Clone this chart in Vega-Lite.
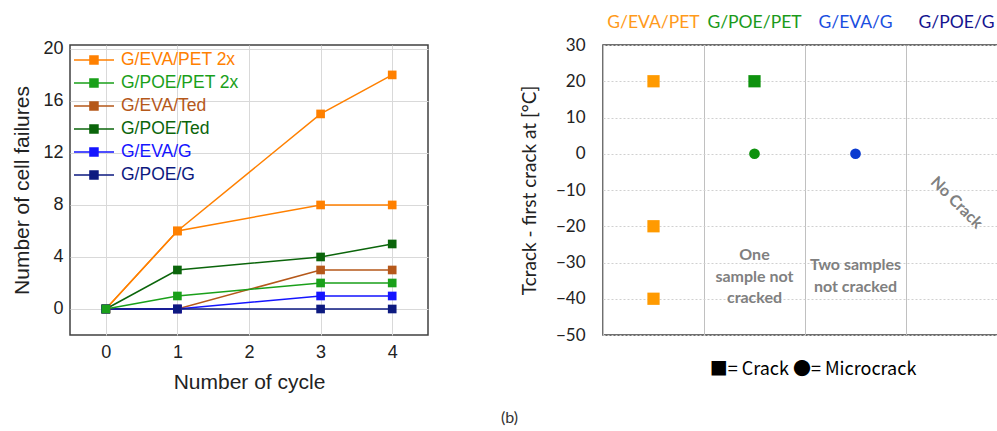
{
  "$schema": "https://vega.github.io/schema/vega-lite/v6.json",
  "autosize": {"type": "pad"},
  "padding": {"left": 11, "top": 12, "right": 0, "bottom": 5},
  "background": "white",
  "bounds": "flush",
  "spacing": 175,
  "config": {"view": {"stroke": "#404040", "strokeWidth": 1.5}},
  "title": {"text": "(b)", "orient": "bottom", "anchor": "middle", "font": "Lato", "fontSize": 16, "fontWeight": "normal", "color": "#333333", "offset": 17},
  "datasets": {
    "failures": [
      {"series": "G/EVA/PET 2x", "line": "a", "cycle": 0, "failures": 0},
      {"series": "G/EVA/PET 2x", "line": "a", "cycle": 1, "failures": 6},
      {"series": "G/EVA/PET 2x", "line": "a", "cycle": 3, "failures": 15},
      {"series": "G/EVA/PET 2x", "line": "a", "cycle": 4, "failures": 18},
      {"series": "G/EVA/PET 2x", "line": "b", "cycle": 0, "failures": 0},
      {"series": "G/EVA/PET 2x", "line": "b", "cycle": 1, "failures": 6},
      {"series": "G/EVA/PET 2x", "line": "b", "cycle": 3, "failures": 8},
      {"series": "G/EVA/PET 2x", "line": "b", "cycle": 4, "failures": 8},
      {"series": "G/EVA/Ted", "line": "c", "cycle": 0, "failures": 0},
      {"series": "G/EVA/Ted", "line": "c", "cycle": 1, "failures": 0},
      {"series": "G/EVA/Ted", "line": "c", "cycle": 3, "failures": 3},
      {"series": "G/EVA/Ted", "line": "c", "cycle": 4, "failures": 3},
      {"series": "G/POE/Ted", "line": "d", "cycle": 0, "failures": 0},
      {"series": "G/POE/Ted", "line": "d", "cycle": 1, "failures": 3},
      {"series": "G/POE/Ted", "line": "d", "cycle": 3, "failures": 4},
      {"series": "G/POE/Ted", "line": "d", "cycle": 4, "failures": 5},
      {"series": "G/EVA/G", "line": "e", "cycle": 0, "failures": 0},
      {"series": "G/EVA/G", "line": "e", "cycle": 1, "failures": 0},
      {"series": "G/EVA/G", "line": "e", "cycle": 3, "failures": 1},
      {"series": "G/EVA/G", "line": "e", "cycle": 4, "failures": 1},
      {"series": "G/POE/G", "line": "f", "cycle": 0, "failures": 0},
      {"series": "G/POE/G", "line": "f", "cycle": 1, "failures": 0},
      {"series": "G/POE/G", "line": "f", "cycle": 3, "failures": 0},
      {"series": "G/POE/G", "line": "f", "cycle": 4, "failures": 0},
      {"series": "G/POE/PET 2x", "line": "g", "cycle": 0, "failures": 0},
      {"series": "G/POE/PET 2x", "line": "g", "cycle": 1, "failures": 1},
      {"series": "G/POE/PET 2x", "line": "g", "cycle": 3, "failures": 2},
      {"series": "G/POE/PET 2x", "line": "g", "cycle": 4, "failures": 2}
    ],
    "cracks": [
      {"material": "G/EVA/PET", "temp": 20, "type": "Crack"},
      {"material": "G/EVA/PET", "temp": -20, "type": "Crack"},
      {"material": "G/EVA/PET", "temp": -40, "type": "Crack"},
      {"material": "G/POE/PET", "temp": 20, "type": "Crack"},
      {"material": "G/POE/PET", "temp": 0, "type": "Microcrack"},
      {"material": "G/EVA/G", "temp": 0, "type": "Microcrack"}
    ],
    "notes": [
      {"material": "G/POE/PET", "temp": -28, "label": "One\nsample not\ncracked"},
      {"material": "G/EVA/G", "temp": -30.8, "label": "Two samples\nnot cracked"}
    ],
    "notes2": [
      {"material": "G/POE/G", "temp": -13.5, "label": "No Crack"}
    ]
  },
  "hconcat": [
    {
      "width": 358,
      "height": 290,
      "data": {"name": "failures"},
      "mark": {"type": "line", "strokeWidth": 1.5, "point": {"shape": "square", "size": 75, "filled": true, "opacity": 1}},
      "encoding": {
        "x": {"field": "cycle", "type": "quantitative",
          "scale": {"domain": [-0.5, 4.5], "nice": false, "zero": false},
          "axis": {"values": [0, 1, 2, 3, 4], "title": "Number of cycle", "titleFont": "Liberation Sans", "titleFontSize": 21, "titleFontWeight": "normal", "titleColor": "#222222", "labelFont": "Liberation Sans", "labelFontSize": 18, "labelColor": "#222222", "ticks": false, "domain": false, "labelPadding": 8, "titlePadding": 10, "grid": true, "gridColor": "#d9d9d9"}},
        "y": {"field": "failures", "type": "quantitative",
          "scale": {"domain": [-2, 20.3], "nice": false, "zero": false},
          "axis": {"values": [0, 4, 8, 12, 16, 20], "title": "Number of cell failures", "titleFont": "Liberation Sans", "titleFontSize": 21, "titleFontWeight": "normal", "titleColor": "#222222", "labelFont": "Liberation Sans", "labelFontSize": 18, "labelColor": "#222222", "ticks": false, "domain": false, "labelPadding": 7, "titlePadding": 10, "grid": true, "gridColor": "#d9d9d9"}},
        "color": {"field": "series", "type": "nominal",
          "scale": {"domain": ["G/EVA/PET 2x", "G/POE/PET 2x", "G/EVA/Ted", "G/POE/Ted", "G/EVA/G", "G/POE/G"],
                    "range": ["#ff8000", "#1aa01a", "#b5581a", "#0b650b", "#1515ff", "#0d1a80"]},
          "legend": {"orient": "none", "legendX": 3, "legendY": 3, "title": null,
            "symbolType": "M-1,0H2.64M0.45,-0.36H1.18V0.36H0.45Z", "symbolSize": 484, "symbolStrokeWidth": 1.5,
            "labelFont": "Liberation Sans", "labelFontSize": 17.5, "labelOffset": 24, "labelLimit": 300, "rowPadding": 2,
            "encode": {
              "symbols": {"update": {"fill": {"signal": "datum.value === 'G/EVA/PET 2x' ? '#ff8000' : datum.value === 'G/POE/PET 2x' ? '#1aa01a' : datum.value === 'G/EVA/Ted' ? '#b5581a' : datum.value === 'G/POE/Ted' ? '#0b650b' : datum.value === 'G/EVA/G' ? '#1515ff' : '#0d1a80'"}}},
              "labels": {"update": {"fill": {"signal": "datum.value === 'G/EVA/PET 2x' ? '#ff8000' : datum.value === 'G/POE/PET 2x' ? '#1aa01a' : datum.value === 'G/EVA/Ted' ? '#b5581a' : datum.value === 'G/POE/Ted' ? '#0b650b' : datum.value === 'G/EVA/G' ? '#1515ff' : '#0d1a80'"}}}
            }}},
        "detail": {"field": "line"}
      }
    },
    {
      "width": 404,
      "height": 290,
      "title": {"text": "■= Crack ●= Microcrack", "orient": "bottom", "anchor": "middle", "font": "'Noto Sans CJK JP'", "fontSize": 18, "fontWeight": "normal", "color": "#000000", "offset": 18, "dx": 8},
      "layer": [
        {
          "data": {"name": "cracks"},
          "mark": {"type": "point", "filled": true, "opacity": 1},
          "encoding": {
            "x": {"field": "material", "type": "nominal",
              "scale": {"domain": ["G/EVA/PET", "G/POE/PET", "G/EVA/G", "G/POE/G"], "paddingInner": 0, "paddingOuter": 0},
              "axis": {"orient": "top", "title": null, "ticks": false, "domain": false, "grid": false, "labelAngle": 0, "labelFont": "Lato", "labelFontSize": 17.5, "labelPadding": 14, "labelOverlap": false,
                "labelColor": {"condition": [
                  {"test": "datum.value === 'G/EVA/PET'", "value": "#ff9a1a"},
                  {"test": "datum.value === 'G/POE/PET'", "value": "#1a9a1a"},
                  {"test": "datum.value === 'G/EVA/G'", "value": "#1a4ee0"}], "value": "#14148f"}}},
            "y": {"field": "temp", "type": "quantitative",
              "scale": {"domain": [-50, 30], "nice": false, "zero": false},
              "axis": {"values": [-50, -40, -30, -20, -10, 0, 10, 20, 30], "title": "Tcrack - first crack at [°C]", "titleFont": "Lato", "titleFontSize": 19, "titleFontWeight": "normal", "titleColor": "#222222", "labelFont": "Lato", "labelFontSize": 17, "labelColor": "#222222", "ticks": false, "domain": false, "labelPadding": 18, "titlePadding": 16, "labelOverlap": false, "grid": true, "gridDash": [2, 2], "gridColor": "#d0d0d0"}},
            "shape": {"field": "type", "type": "nominal", "scale": {"domain": ["Crack", "Microcrack"], "range": ["square", "circle"]}, "legend": null},
            "size": {"field": "type", "type": "ordinal", "scale": {"domain": ["Crack", "Microcrack"], "range": [150, 115]}, "legend": null},
            "fill": {"field": "material", "type": "nominal", "scale": {"domain": ["G/EVA/PET", "G/POE/PET", "G/EVA/G", "G/POE/G"], "range": ["#ff9a00", "#0e920e", "#0a3ad0", "#14148f"]}, "legend": null}
          }
        },
        {
          "data": {"name": "notes"},
          "mark": {"type": "text", "font": "Lato", "fontWeight": "bold", "fontSize": 16, "color": "#808080", "lineBreak": "\n", "lineHeight": 21.5, "baseline": "middle", "align": "center"},
          "encoding": {
            "x": {"field": "material", "type": "nominal",
              "axis": {"orient": "bottom", "labels": false, "ticks": false, "domain": false, "title": null, "grid": true, "tickBand": "extent", "gridColor": "#c0c0c0", "gridWidth": 1}},
            "y": {"field": "temp", "type": "quantitative",
              "axis": {"values": [-50, -40, -30, -20, -10, 0, 10, 20, 30], "title": "Tcrack - first crack at [°C]", "titleFont": "Lato", "titleFontSize": 19, "titleFontWeight": "normal", "titleColor": "#222222", "labelFont": "Lato", "labelFontSize": 17, "labelColor": "#222222", "ticks": false, "domain": false, "labelPadding": 18, "titlePadding": 16, "labelOverlap": false, "grid": true, "gridDash": [2, 2], "gridColor": "#d0d0d0"}},
            "text": {"field": "label"}
          }
        },
        {
          "data": {"name": "notes2"},
          "mark": {"type": "text", "font": "Lato", "fontWeight": "bold", "fontSize": 16, "color": "#808080", "angle": 45, "baseline": "middle", "align": "center"},
          "encoding": {
            "x": {"field": "material", "type": "nominal", "axis": null},
            "y": {"field": "temp", "type": "quantitative",
              "axis": {"values": [-50, -40, -30, -20, -10, 0, 10, 20, 30], "title": "Tcrack - first crack at [°C]", "titleFont": "Lato", "titleFontSize": 19, "titleFontWeight": "normal", "titleColor": "#222222", "labelFont": "Lato", "labelFontSize": 17, "labelColor": "#222222", "ticks": false, "domain": false, "labelPadding": 18, "titlePadding": 16, "labelOverlap": false, "grid": true, "gridDash": [2, 2], "gridColor": "#d0d0d0"}},
            "text": {"field": "label"}
          }
        }
      ],
      "resolve": {"axis": {"x": "independent"}}
    }
  ]
}
